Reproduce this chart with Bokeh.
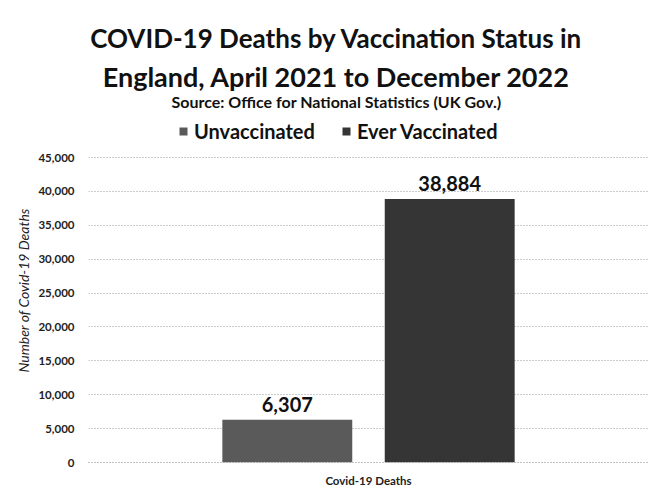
from bokeh.plotting import figure
from bokeh.models import (ColumnDataSource, FactorRange, Range1d, NumeralTickFormatter,
                          Label, Legend, LegendItem, Title)
from bokeh.transform import dodge
from bokeh.core.properties import value
from bokeh.embed import file_html
from bokeh.resources import INLINE

# ---- data ----
categories = ["Covid-19 Deaths"]
series = ["Unvaccinated", "Ever Vaccinated"]
unvaccinated = [6307]
ever_vaccinated = [38884]
y_ticks = [0, 5000, 10000, 15000, 20000, 25000, 30000, 35000, 40000, 45000]
title_lines = ["COVID-19 Deaths by Vaccination Status in",
               "England, April 2021 to December 2022"]
subtitle = "Source: Office for National Statistics (UK Gov.)"
y_label = "Number of Covid-19 Deaths"

colors = ["#5a5a5a", "#353535"]
FONT = "Lato"

# layout (pixels)
W, H = 653, 490
frame_bottom = 462      # canvas y of the zero line
axis_top = 157          # canvas y of the 45,000 line
y_max = y_ticks[-1] * frame_bottom / (frame_bottom - axis_top)

src = ColumnDataSource(data=dict(
    cat=categories,
    unvax=unvaccinated,
    vax=ever_vaccinated,
    unvax_lbl=[f"{v:,}" for v in unvaccinated],
    vax_lbl=[f"{v:,}" for v in ever_vaccinated],
))

p = figure(width=W, height=H, x_range=FactorRange(*categories, range_padding=0),
           y_range=Range1d(0, y_max), output_backend="svg", toolbar_location=None,
           title=None, min_border_left=88, min_border_right=5, min_border_top=0,
           min_border_bottom=H - frame_bottom)

off = 0.145
bw = 0.232
r1 = p.vbar(x=dodge("cat", -off, range=p.x_range), top="unvax", width=bw, source=src,
            fill_color=colors[0], line_color=None)
r2 = p.vbar(x=dodge("cat", off, range=p.x_range), top="vax", width=bw, source=src,
            fill_color=colors[1], line_color=None)

for col, o in (("unvax", -off), ("vax", off)):
    p.text(x=dodge("cat", o, range=p.x_range), y=col, text=col + "_lbl", source=src,
           text_align="center", text_baseline="bottom", y_offset=-8,
           text_font=value(FONT), text_font_style="bold", text_font_size="20px",
           text_color="#111111")

# axes
p.yaxis.ticker = y_ticks
p.yaxis.formatter = NumeralTickFormatter(format="0,0")
p.yaxis.major_label_text_font = FONT
p.yaxis.major_label_text_font_style = "bold"
p.yaxis.major_label_text_font_size = "11.5px"
p.yaxis.major_label_text_color = "#222222"
p.yaxis.major_label_standoff = 8
p.yaxis.axis_line_color = None
p.yaxis.major_tick_line_color = None
p.yaxis.minor_tick_line_color = None

p.xaxis.major_label_text_font = FONT
p.xaxis.major_label_text_font_style = "bold"
p.xaxis.major_label_text_font_size = "11.5px"
p.xaxis.major_label_text_color = "#222222"
p.xaxis.axis_line_color = "#888888"
p.xaxis.axis_line_dash = "1 2"
p.xaxis.major_tick_line_color = None
p.xaxis.minor_tick_line_color = None
p.xaxis.major_label_standoff = 5

p.xgrid.grid_line_color = None
p.ygrid.grid_line_color = "#999999"
p.ygrid.grid_line_dash = "1 2"
p.outline_line_color = None

# y-axis title, placed beside the axis (starts 90px above the zero line)
p.add_layout(Title(text=y_label, align="left", offset=90, standoff=8,
                   text_font=FONT, text_font_style="italic", text_font_size="14px",
                   text_color="#222222"), "left")

# titles (screen units, relative to frame left / bottom)
cx = 336 - 88
for txt, cy, size in ((title_lines[0], 37, "26px"), (title_lines[1], 76, "27px"),
                      (subtitle, 101, "16px")):
    p.add_layout(Label(x=cx, y=frame_bottom - cy, x_units="screen", y_units="screen",
                       text=txt, text_align="center", text_baseline="middle",
                       text_font=FONT, text_font_style="bold", text_font_size=size,
                       text_color="#111111"))

legend = Legend(items=[LegendItem(label=series[0], renderers=[r1]),
                       LegendItem(label=series[1], renderers=[r2])],
                orientation="horizontal", location=(90, frame_bottom - 143),
                label_text_font=FONT, label_text_font_style="bold",
                label_text_font_size="20px", label_text_color="#111111",
                border_line_color=None, background_fill_alpha=0,
                glyph_width=10, glyph_height=10, spacing=26, label_standoff=6,
                padding=0, margin=0)
p.add_layout(legend)

open("out.html", "w").write(file_html(p, INLINE))
